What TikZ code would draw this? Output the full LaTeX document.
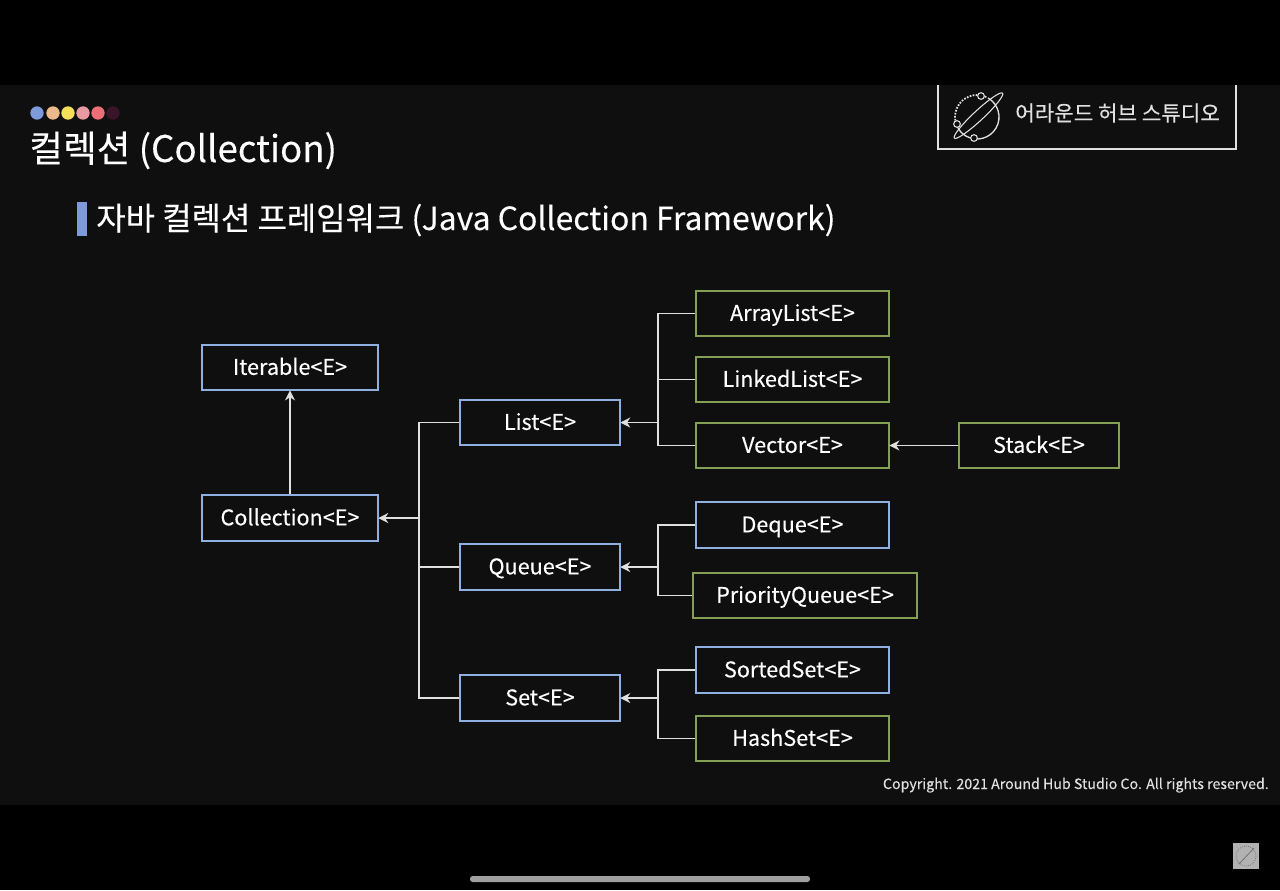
\documentclass[tikz,border=0pt]{standalone}
\usepackage{fontspec}
\setmainfont{Noto Sans CJK KR}[FakeBold=0.25]
\usetikzlibrary{arrows.meta}
\definecolor{slidebg}{HTML}{0F0F10}
\definecolor{ifaceblue}{HTML}{8FB0E0}
\definecolor{classgreen}{HTML}{84A055}
\definecolor{barblue}{HTML}{7F9AD8}
\definecolor{linkgray}{HTML}{E0E0E0}
\definecolor{dotorange}{HTML}{EBB98C}
\definecolor{dotyellow}{HTML}{F5DE5A}
\definecolor{dotpink}{HTML}{E89AA0}
\definecolor{dotred}{HTML}{EE6E78}
\definecolor{dotdark}{HTML}{3A1528}
\tikzset{
  box/.style={draw, line width=1.4pt, minimum height=34pt, inner sep=0pt, text=white, text height=13pt, text depth=2pt, font=\fontsize{16.2}{18}\selectfont},
  iface/.style={box, draw=ifaceblue},
  impl/.style={box, draw=classgreen},
  link/.style={draw=linkgray, line width=0.95pt},
  linkarrow/.style={link, arrows=-{Stealth[length=7.5pt,width=7.5pt]}, shorten >=-0.5pt},
  dot/.style={circle, minimum size=10pt, inner sep=0pt},
  ring/.style={draw=linkgray, line width=0.8pt, fill=slidebg, circle, minimum size=5pt, inner sep=0pt}
}
\begin{document}
\begin{tikzpicture}[x=0.75pt, y=-0.75pt]
\useasboundingbox (0,0) rectangle (1280,890);
\fill[black] (0,0) rectangle (1280,890);
\fill[slidebg] (0,85) rectangle (1280,805);
% header
\node (d1)[dot, fill=barblue] at (37,113) {};
\node (d2)[dot, fill=dotorange] at (53,113) {};
\node (d3)[dot, fill=dotyellow] at (68,113) {};
\node (d4)[dot, fill=dotpink] at (83,113) {};
\node (d5)[dot, fill=dotred] at (98,113) {};
\node (d6)[dot, fill=dotdark] at (113,113) {};
\node (title)[anchor=base west, inner sep=0pt, text=white, font=\fontsize{27.5}{30}\selectfont] at (29,162) {컬렉션 (Collection)};
\fill[barblue] (77,202) rectangle (87,236);
\node (subtitle)[anchor=base west, inner sep=0pt, text=white, font=\fontsize{23.95}{28}\selectfont] at (96,230) {자바 컬렉션 프레임워크 (Java Collection Framework)};
% logo
\draw[linkgray, line width=1.4pt] (938,85) |- (1236,149) -- (1236,85);
\begin{scope}[shift={(977,117)}, x=0.75pt, y=0.75pt]
\draw[linkgray, line width=1pt] (60:22) arc (60:-155:22);
\draw[linkgray, line width=1.3pt, densely dotted] (65:22) arc (65:205:22);
\draw[linkgray, line width=0.8pt, rotate=43] (2,0) ellipse (33 and 5);
\end{scope}
\node (ring1)[ring] at (981,96) {};
\node (ring2)[ring] at (957,124) {};
\node (ring3)[ring] at (974,138) {};
\node (logotext)[anchor=base west, inner sep=0pt, text=linkgray, font=\fontsize{15.9}{18}\selectfont] at (1015,121) {어라운드 허브 스튜디오};
% tree
\node (iterable)[iface, minimum width=132pt] at (290,367.5) {Iterable<E>};
\node (collection)[iface, minimum width=132pt] at (290,518) {Collection<E>};
\node (list)[iface, minimum width=120pt] at (540,422.5) {List<E>};
\node (queue)[iface, minimum width=120pt] at (540,567) {Queue<E>};
\node (set)[iface, minimum width=120pt] at (540,698) {Set<E>};
\node (arraylist)[impl, minimum width=145pt] at (792.5,313.5) {ArrayList<E>};
\node (linkedlist)[impl, minimum width=145pt] at (792.5,379.5) {LinkedList<E>};
\node (vector)[impl, minimum width=145pt] at (792.5,445.5) {Vector<E>};
\node (stack)[impl, minimum width=120pt] at (1039,445.5) {Stack<E>};
\node (deque)[iface, minimum width=145pt] at (792.5,525) {Deque<E>};
\node (priorityqueue)[impl, minimum width=168pt] at (805,595.5) {PriorityQueue<E>};
\node (sortedset)[iface, minimum width=145pt] at (792.5,670) {SortedSet<E>};
\node (hashset)[impl, minimum width=145pt] at (792.5,738.5) {HashSet<E>};
\coordinate (collectionjoin) at (419,518);
\coordinate (listjoin) at (658,422.5);
\coordinate (queuejoin) at (658,567);
\coordinate (setjoin) at (658,698);
\draw[linkarrow] (collection) -- (iterable);
\draw[link] (list.west) -| (collectionjoin);
\draw[link] (queue.west) -| (collectionjoin);
\draw[link] (set.west) -| (collectionjoin);
\draw[linkarrow] (collectionjoin) -- (collection.east);
\draw[link] (arraylist.west) -| (listjoin);
\draw[link] (linkedlist.west) -| (listjoin);
\draw[link] (vector.west) -| (listjoin);
\draw[linkarrow] (listjoin) -- (list.east);
\draw[linkarrow] (stack) -- (vector);
\draw[link] (deque.west) -| (queuejoin);
\draw[link] (priorityqueue.west) -| (queuejoin);
\draw[linkarrow] (queuejoin) -- (queue.east);
\draw[link] (sortedset.west) -| (setjoin);
\draw[link] (hashset.west) -| (setjoin);
\draw[linkarrow] (setjoin) -- (set.east);
% footer
\node (copyright)[anchor=base east, inner sep=0pt, text=linkgray, font=\fontsize{10.65}{12}\selectfont] at (1269,789) {Copyright. 2021 Around Hub Studio Co. All rights reserved.};
\fill[gray!75!white, rounded corners=2pt] (470,876) rectangle (810,882);
\fill[gray!60!white] (1233,843) rectangle (1259,869);
\draw[gray!90!black, line width=0.6pt, densely dotted] (1246,856) circle (10);
\draw[gray!90!black, line width=0.6pt] (1239,864) -- (1254,848);
\end{tikzpicture}
\end{document}
